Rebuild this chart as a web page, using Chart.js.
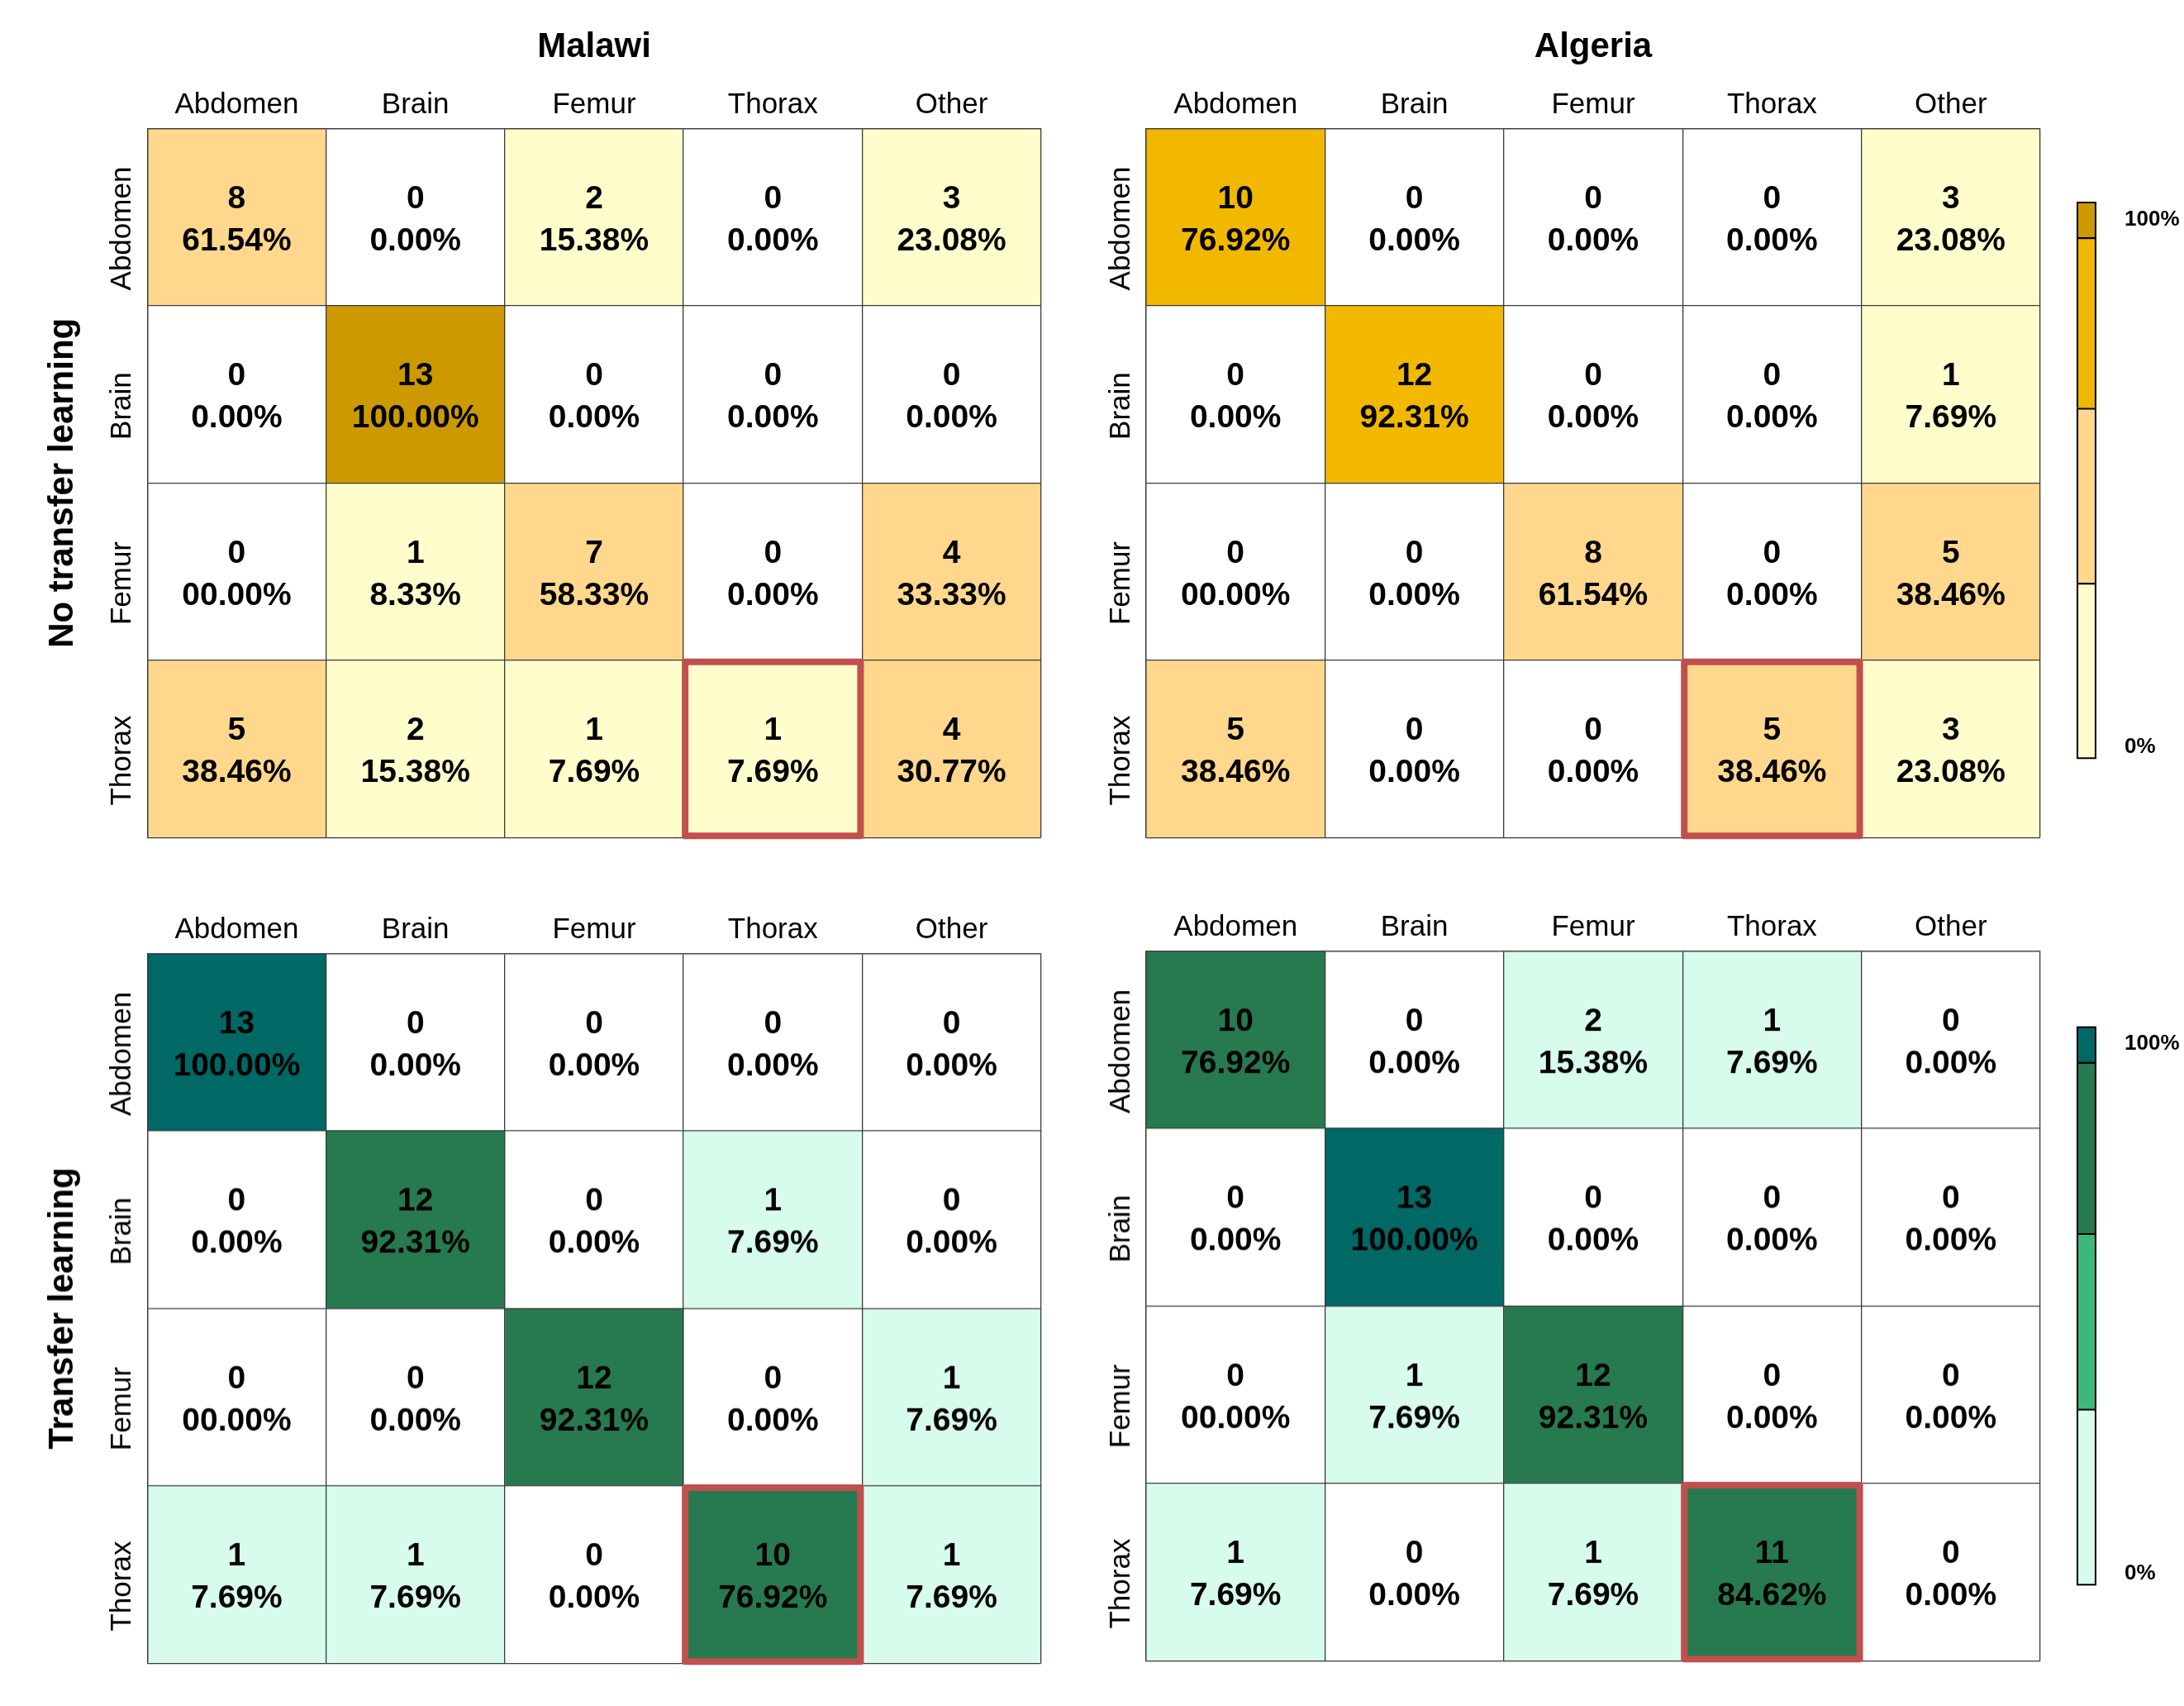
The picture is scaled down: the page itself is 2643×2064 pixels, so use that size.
<!DOCTYPE html>
<html lang="en">
<head>
<meta charset="UTF-8">
<title>Confusion matrices</title>
<script src="https://cdn.jsdelivr.net/npm/chart.js@4.4.1/dist/chart.umd.min.js"></script>
<style>
  html, body { margin: 0; padding: 0; background: #fff; }
  body { width: 2643px; height: 2064px; position: relative; overflow: hidden; }
  .box { position: absolute; }
</style>
</head>
<body>
<div class="box" style="left:0;top:0;width:1270px;height:1024px"><canvas id="m1"></canvas></div>
<div class="box" style="left:1307.3px;top:0;width:1172px;height:1024px"><canvas id="m2"></canvas></div>
<div class="box" style="left:0;top:1081.4px;width:1270px;height:940.6px"><canvas id="m3"></canvas></div>
<div class="box" style="left:1307.3px;top:1078.4px;width:1172px;height:940.6px"><canvas id="m4"></canvas></div>
<div class="box" style="left:2490px;top:200px;width:153px;height:760px"><canvas id="cb1"></canvas></div>
<div class="box" style="left:2490px;top:1200px;width:153px;height:760px"><canvas id="cb2"></canvas></div>
<script>
// predicted classes (columns) and true classes (rows)
const predLabels = ['Abdomen', 'Brain', 'Femur', 'Thorax', 'Other'];
const trueLabels = ['Abdomen', 'Brain', 'Femur', 'Thorax'];

const malawiBaseCounts = [[8, 0, 2, 0, 3], [0, 13, 0, 0, 0], [0, 1, 7, 0, 4], [5, 2, 1, 1, 4]];
const malawiBasePct = [
  ['61.54%', '0.00%', '15.38%', '0.00%', '23.08%'],
  ['0.00%', '100.00%', '0.00%', '0.00%', '0.00%'],
  ['00.00%', '8.33%', '58.33%', '0.00%', '33.33%'],
  ['38.46%', '15.38%', '7.69%', '7.69%', '30.77%']
];

const algeriaBaseCounts = [[10, 0, 0, 0, 3], [0, 12, 0, 0, 1], [0, 0, 8, 0, 5], [5, 0, 0, 5, 3]];
const algeriaBasePct = [
  ['76.92%', '0.00%', '0.00%', '0.00%', '23.08%'],
  ['0.00%', '92.31%', '0.00%', '0.00%', '7.69%'],
  ['00.00%', '0.00%', '61.54%', '0.00%', '38.46%'],
  ['38.46%', '0.00%', '0.00%', '38.46%', '23.08%']
];

const malawiTLCounts = [[13, 0, 0, 0, 0], [0, 12, 0, 1, 0], [0, 0, 12, 0, 1], [1, 1, 0, 10, 1]];
const malawiTLPct = [
  ['100.00%', '0.00%', '0.00%', '0.00%', '0.00%'],
  ['0.00%', '92.31%', '0.00%', '7.69%', '0.00%'],
  ['00.00%', '0.00%', '92.31%', '0.00%', '7.69%'],
  ['7.69%', '7.69%', '0.00%', '76.92%', '7.69%']
];

const algeriaTLCounts = [[10, 0, 2, 1, 0], [0, 13, 0, 0, 0], [0, 1, 12, 0, 0], [1, 0, 1, 11, 0]];
const algeriaTLPct = [
  ['76.92%', '0.00%', '15.38%', '7.69%', '0.00%'],
  ['0.00%', '100.00%', '0.00%', '0.00%', '0.00%'],
  ['00.00%', '7.69%', '92.31%', '0.00%', '0.00%'],
  ['7.69%', '0.00%', '7.69%', '84.62%', '0.00%']
];

const highlightCell = ['Thorax', 'Thorax'];   // [true, predicted]

// colour bar: segment heights (bottom to top) and its two labels
const colorbarSegments = [31.6, 31.4, 30.6, 6.4];
const colorbarLabels = ['0%', '100%'];

const yellowScale = ['#FFFFFF', '#FFFDCC', '#FFD78D', '#F2B800', '#CC9A00'];
const greenScale = ['#FFFFFF', '#D8FCEB', '#3DB87A', '#277A50', '#006865'];

Chart.defaults.font.family = '"Liberation Sans", Arial, sans-serif';
Chart.defaults.color = '#000';

function binOf(p) {
  if (p === 0) return 0;
  if (p < 30) return 1;
  if (p < 70) return 2;
  if (p < 100) return 3;
  return 4;
}

function cellText(counts, pcts) {
  return {
    id: 'cellText',
    afterDraw(chart) {
      const ctx = chart.ctx;
      ctx.save();
      ctx.fillStyle = '#000';
      ctx.textAlign = 'center';
      ctx.textBaseline = 'alphabetic';
      ctx.font = 'bold 39px "Liberation Sans", Arial, sans-serif';
      chart.data.datasets.forEach((ds, c) => {
        chart.getDatasetMeta(c).data.forEach((bar, r) => {
          const p = bar.getCenterPoint();
          ctx.fillText(String(counts[r][c]), p.x, p.y - 11);
          ctx.fillText(pcts[r][c], p.x, p.y + 40);
        });
      });
      // red frame round the Thorax/Thorax cell
      const r = trueLabels.indexOf(highlightCell[0]);
      const c = predLabels.indexOf(highlightCell[1]);
      const b = chart.getDatasetMeta(c).data[r].getProps(['x', 'y', 'base', 'height']);
      const left = Math.min(b.x, b.base), right = Math.max(b.x, b.base);
      const top = b.y - b.height / 2;
      ctx.strokeStyle = '#C0504D';
      ctx.lineWidth = 8;
      ctx.lineJoin = 'round';
      ctx.strokeRect(left + 2, top + 2, right - left - 4, b.height - 4);
      ctx.restore();
    }
  };
}

function matrixChart(id, counts, pcts, palette, o) {
  const datasets = predLabels.map((name, c) => ({
    label: name,
    data: trueLabels.map(() => [c, c + 1]),
    backgroundColor: trueLabels.map((t, r) => palette[binOf(parseFloat(pcts[r][c]))]),
    borderWidth: 0,
    grouped: false,
    barPercentage: 1,
    categoryPercentage: 1
  }));
  const gridColor = '#3a3a3a';
  return new Chart(document.getElementById(id), {
    type: 'bar',
    data: { labels: trueLabels, datasets },
    options: {
      indexAxis: 'y',
      responsive: true,
      maintainAspectRatio: false,
      animation: false,
      layout: { padding: { left: 0, top: 0, right: o.padRight, bottom: o.padBottom } },
      plugins: {
        legend: { display: false },
        tooltip: { enabled: false },
        title: {
          display: !!o.title,
          text: o.title || '',
          fullSize: false,
          color: '#000',
          font: { size: 42, weight: 'bold' },
          padding: { top: 32.3, bottom: 0 }
        }
      },
      scales: {
        x: { type: 'linear', min: 0, max: 5, display: false },
        x2: {
          type: 'category',
          labels: predLabels,
          position: 'top',
          offset: true,
          grid: { offset: true, color: gridColor, lineWidth: 1.3, drawTicks: false, z: 1 },
          border: { display: true, color: gridColor, width: 1.3, z: 2 },
          ticks: { font: { size: 35 }, color: '#000', padding: 7, maxRotation: 0, autoSkip: false },
          afterFit: s => { s.height = 72.6; }
        },
        y: {
          type: 'category',
          offset: true,
          grid: { offset: true, color: gridColor, lineWidth: 1.3, drawTicks: false, z: 1 },
          border: { display: true, color: gridColor, width: 1.3, z: 2 },
          ticks: {
            font: { size: 35 }, color: '#000', autoSkip: false,
            minRotation: 90, maxRotation: 90, crossAlign: 'center',
            padding: -45, labelOffset: 14
          },
          title: {
            display: !!o.yTitle,
            text: o.yTitle || '',
            color: '#000',
            font: { size: 42, weight: 'bold' },
            padding: { top: 51, bottom: 0 }
          },
          afterFit: s => { s.width = o.axisW; }
        }
      }
    },
    plugins: [cellText(counts, pcts)]
  });
}

function colorbar(id, palette, padTop, padBottom) {
  const datasets = colorbarSegments.map((v, i) => ({
    data: [v],
    backgroundColor: palette[i + 1],
    borderColor: '#000',
    borderWidth: 2.4,
    borderSkipped: i === 0 ? false : 'start',
    barPercentage: 1,
    categoryPercentage: 1
  }));
  return new Chart(document.getElementById(id), {
    type: 'bar',
    data: { labels: [''], datasets },
    options: {
      responsive: true,
      maintainAspectRatio: false,
      animation: false,
      layout: { padding: { left: 23, top: padTop, right: 0, bottom: padBottom } },
      plugins: { legend: { display: false }, tooltip: { enabled: false } },
      scales: {
        x: { stacked: true, display: false },
        y: {
          stacked: true,
          min: 0,
          max: 100,
          position: 'right',
          grid: { display: false },
          border: { display: false },
          afterBuildTicks: s => { s.ticks = [{ value: 2.2 }, { value: 96.8 }]; },
          ticks: {
            padding: 26,
            color: '#000',
            font: { size: 26, weight: 'bold' },
            callback: (v, i) => colorbarLabels[i]
          },
          afterFit: s => { s.width = 106; }
        }
      }
    }
  });
}

matrixChart('m1', malawiBaseCounts, malawiBasePct, yellowScale,
  { title: 'Malawi', yTitle: 'No transfer learning', axisW: 178.3, padRight: 10.3, padBottom: 10.7 });
matrixChart('m2', algeriaBaseCounts, algeriaBasePct, yellowScale,
  { title: 'Algeria', axisW: 80, padRight: 10, padBottom: 10.7 });
matrixChart('m3', malawiTLCounts, malawiTLPct, greenScale,
  { yTitle: 'Transfer learning', axisW: 178.3, padRight: 10.3, padBottom: 10.3 });
matrixChart('m4', algeriaTLCounts, algeriaTLPct, greenScale,
  { axisW: 80, padRight: 10, padBottom: 10.3 });

colorbar('cb1', yellowScale, 44, 24);
colorbar('cb2', greenScale, 36, 33);
</script>
</body>
</html>
